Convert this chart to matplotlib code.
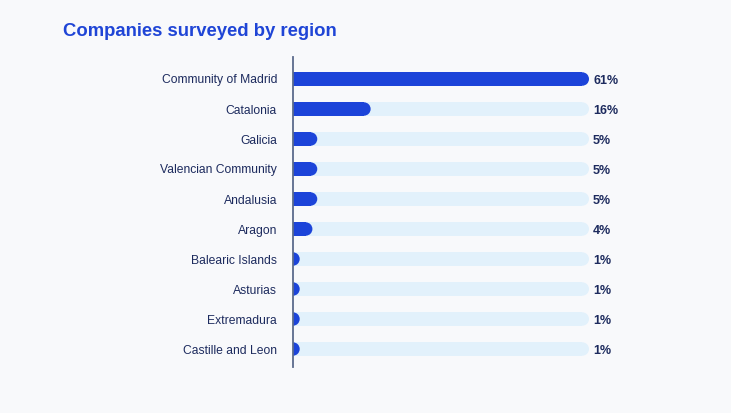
import matplotlib
matplotlib.use("Agg")
import matplotlib.pyplot as plt
from matplotlib.patches import Rectangle, Ellipse

regions = [
    "Community of Madrid",
    "Catalonia",
    "Galicia",
    "Valencian Community",
    "Andalusia",
    "Aragon",
    "Balearic Islands",
    "Asturias",
    "Extremadura",
    "Castille and Leon",
]
shares = [61, 16, 5, 5, 5, 4, 1, 1, 1, 1]
value_labels = ["61%", "16%", "5%", "5%", "5%", "4%", "1%", "1%", "1%", "1%"]

bg = "#f8f9fb"
bar_col = "#1c44d9"
track_col = "#e2f1fb"
text_col = "#1d2b5e"
title_col = "#1f45d6"

W, H = 731, 413
fig = plt.figure(figsize=(W / 100, H / 100), dpi=100, facecolor=bg)
plt.rcParams["font.family"] = ["Liberation Sans", "DejaVu Sans"]

# axes placed in pixel terms: x 293..589, y 57..367
left, right, top, bottom = 293, 589, 57, 367
ax = fig.add_axes([left / W, 1 - bottom / H, (right - left) / W, (bottom - top) / H])
ax.set_facecolor("none")
xmax = max(shares)
ax.set_xlim(0, xmax)
ax.set_ylim(9 + 18 / 30, -22 / 30)

px_x = (right - left) / xmax  # pixels per unit x
px_y = 30.0                   # pixels per row
bar_h_px = 13.4
h = bar_h_px / px_y
rx = (bar_h_px / 2) / px_x


def pill(y, v, color, z):
    c = max(v - rx, 0)
    ax.add_patch(Rectangle((0, y - h / 2), c, h, facecolor=color, edgecolor="none", zorder=z))
    ax.add_patch(Ellipse((c, y), 2 * rx, h, facecolor=color, edgecolor="none", zorder=z))


for i, (v, lab) in enumerate(zip(shares, value_labels)):
    pill(i, xmax, track_col, 1)
    pill(i, v, bar_col, 2)
    ax.text(xmax + 4 / px_x, i, lab, ha="left", va="center_baseline", fontsize=9,
            fontweight="bold", color=text_col, clip_on=False)

ax.set_yticks(range(len(regions)))
ax.set_yticklabels(regions, fontsize=8.7, color=text_col, va="center_baseline")
ax.tick_params(axis="y", length=0, pad=11.5)
ax.set_xticks([])
for s in ["top", "right", "bottom"]:
    ax.spines[s].set_visible(False)
ax.spines["left"].set_color("#5b6b8c")
ax.spines["left"].set_linewidth(1.3)
ax.spines["left"].set_zorder(5)

fig.text(63 / W, 1 - 32 / H, "Companies surveyed by region", ha="left", va="center",
         fontsize=13.3, fontweight="bold", color=title_col)

fig.savefig("out.png", dpi=100, facecolor=bg)
